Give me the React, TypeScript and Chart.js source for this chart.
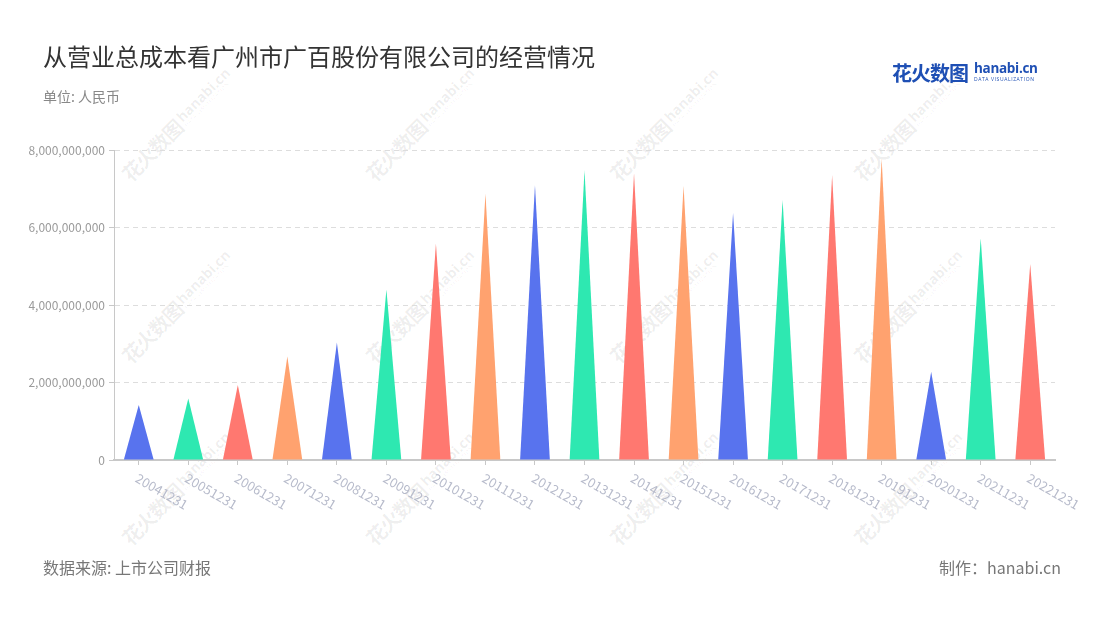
import React, { useEffect, useRef } from "react";
import { Chart, registerables } from "chart.js";

Chart.register(...registerables);

const categories = [
  "20041231", "20051231", "20061231", "20071231", "20081231", "20091231",
  "20101231", "20111231", "20121231", "20131231", "20141231", "20151231",
  "20161231", "20171231", "20181231", "20191231", "20201231", "20211231",
  "20221231",
];

const totalCost = [
  1.42e9, 1.59e9, 1.935e9, 2.67e9, 3.03e9, 4.4e9, 5.59e9, 6.88e9, 7.1e9,
  7.48e9, 7.4e9, 7.07e9, 6.38e9, 6.71e9, 7.35e9, 7.78e9, 2.28e9, 5.72e9,
  5.06e9,
];

const palette = ["#5873EE", "#2EE8B1", "#FF7870", "#FFA26F"];

const yTicks = [0, 2e9, 4e9, 6e9, 8e9];

const wmCols = [133, 377, 621, 865];
const wmRows = [185, 367, 549];

const FONT = "'Noto Sans CJK SC', 'Noto Sans', sans-serif";

const trianglePlugin = {
  id: "triangles",
  afterDatasetsDraw(chart: any) {
    const ctx = chart.ctx;
    const meta = chart.getDatasetMeta(0);
    ctx.save();
    meta.data.forEach((el: any, i: number) => {
      const { x, y, base, width } = el.getProps(["x", "y", "base", "width"], true);
      ctx.beginPath();
      ctx.moveTo(x - width / 2, base);
      ctx.lineTo(x, y);
      ctx.lineTo(x + width / 2, base);
      ctx.closePath();
      ctx.fillStyle = palette[i % palette.length];
      ctx.fill();
    });
    ctx.restore();
  },
};

const xLabelPlugin = {
  id: "xLabels",
  afterDraw(chart: any) {
    const ctx = chart.ctx;
    const xs = chart.scales.x;
    ctx.save();
    ctx.font = `13px ${FONT}`;
    ctx.fillStyle = "#B7BBCB";
    ctx.textAlign = "left";
    ctx.textBaseline = "middle";
    categories.forEach((lab, i) => {
      const px = xs.getPixelForValue(i);
      ctx.save();
      ctx.translate(px - 2, xs.top + 17);
      ctx.rotate((30 * Math.PI) / 180);
      ctx.fillText(lab, 0, 0);
      ctx.restore();
    });
    ctx.restore();
  },
};

function Watermark({ x, y }: { x: number; y: number }) {
  return (
    <div
      style={{
        position: "absolute",
        left: x,
        top: y - 24,
        height: 24,
        transformOrigin: "0 100%",
        transform: "rotate(-45deg)",
        display: "flex",
        alignItems: "center",
        whiteSpace: "nowrap",
        color: "rgba(0,0,0,0.07)",
        pointerEvents: "none",
      }}
    >
      <span style={{ fontSize: 20, fontWeight: 700, letterSpacing: -1 }}>花火数图</span>
      <span
        style={{
          display: "inline-flex",
          flexDirection: "column",
          marginLeft: 3,
          lineHeight: 1,
        }}
      >
        <span style={{ fontSize: 14, fontWeight: 700, fontFamily: "'Open Sans', sans-serif" }}>
          hanabi.cn
        </span>
        <span style={{ fontSize: 5, letterSpacing: 0.6, fontFamily: "'Open Sans', sans-serif" }}>
          DATA VISUALIZATION
        </span>
      </span>
    </div>
  );
}

export default function App() {
  const ref = useRef<HTMLCanvasElement | null>(null);

  useEffect(() => {
    document.body.style.margin = "0";
    const canvas = ref.current;
    if (!canvas) return;
    const chart = new Chart(canvas, {
      type: "bar",
      data: {
        labels: categories,
        datasets: [
          {
            data: totalCost,
            backgroundColor: "rgba(0,0,0,0)",
            borderWidth: 0,
            barPercentage: 0.6,
            categoryPercentage: 1,
          },
        ],
      },
      options: {
        responsive: false,
        animation: false,
        events: [],
        layout: { padding: { top: 150, right: 45, left: 0, bottom: 0 } },
        plugins: {
          legend: { display: false },
          title: { display: false },
          tooltip: { enabled: false },
        },
        scales: {
          x: {
            offset: true,
            grid: {
              offset: false,
              drawOnChartArea: false,
              drawTicks: true,
              tickLength: 5,
              tickColor: "#C8C8C8",
            },
            border: { display: true, color: "#C8C8C8", width: 2 },
            ticks: { display: false },
            afterFit(scale: any) {
              scale.height = 160;
            },
          },
          y: {
            min: 0,
            max: 8e9,
            afterBuildTicks(scale: any) {
              scale.ticks = yTicks.map((v) => ({ value: v }));
            },
            grid: {
              color: "#DDDDDD",
              lineWidth: 1,
              drawTicks: true,
              tickLength: 5,
              tickColor: "#C8C8C8",
              tickBorderDash: [],
            },
            border: { display: true, color: "#C8C8C8", width: 1, dash: [5, 4] },
            ticks: {
              color: "#9A9A9A",
              padding: 4,
              font: { size: 12, family: FONT },
              callback: (v: any) => Number(v).toLocaleString("en-US"),
            },
            afterFit(scale: any) {
              scale.width = 114;
            },
          },
        },
      },
      plugins: [trianglePlugin, xLabelPlugin],
    });
    return () => chart.destroy();
  }, []);

  return (
    <div
      style={{
        position: "relative",
        width: 1100,
        height: 620,
        background: "#fff",
        fontFamily: FONT,
        overflow: "hidden",
      }}
    >
      {wmRows.map((y) =>
        wmCols.map((x) => <Watermark key={`${x}-${y}`} x={x} y={y} />)
      )}
      <canvas
        ref={ref}
        width={1100}
        height={620}
        style={{ position: "absolute", left: 0, top: 0, width: 1100, height: 620 }}
      />
      <div
        style={{
          position: "absolute",
          left: 43,
          top: 39,
          fontSize: 24,
          lineHeight: "34px",
          color: "#333",
          whiteSpace: "nowrap",
        }}
      >
        从营业总成本看广州市广百股份有限公司的经营情况
      </div>
      <div
        style={{
          position: "absolute",
          left: 43,
          top: 86,
          fontSize: 14,
          lineHeight: "20px",
          color: "#888",
          whiteSpace: "nowrap",
        }}
      >
        单位: 人民币
      </div>
      <div
        style={{
          position: "absolute",
          left: 43,
          top: 555,
          fontSize: 16,
          lineHeight: "24px",
          color: "#777",
          whiteSpace: "nowrap",
        }}
      >
        数据来源: 上市公司财报
      </div>
      <div
        style={{
          position: "absolute",
          right: 39,
          top: 555,
          fontSize: 16,
          lineHeight: "24px",
          color: "#777",
          whiteSpace: "nowrap",
        }}
      >
        制作：hanabi.cn
      </div>
      <div
        style={{
          position: "absolute",
          left: 892,
          top: 59,
          height: 26,
          display: "flex",
          alignItems: "center",
          whiteSpace: "nowrap",
        }}
      >
        <span
          style={{
            fontSize: 20,
            fontWeight: 700,
            color: "#1E4FB4",
            letterSpacing: -1,
          }}
        >
          花火数图
        </span>
        <span
          style={{
            display: "inline-flex",
            flexDirection: "column",
            marginLeft: 6,
            lineHeight: 1,
          }}
        >
          <span
            style={{
              fontSize: 13.5,
              fontWeight: 700,
              color: "#1E4FB4",
              fontFamily: "'Open Sans', sans-serif",
              letterSpacing: -0.3,
            }}
          >
            hanabi.cn
          </span>
          <span
            style={{
              fontSize: 5,
              color: "#1E4FB4",
              letterSpacing: 0.6,
              marginTop: 2,
              fontFamily: "'Open Sans', sans-serif",
            }}
          >
            DATA VISUALIZATION
          </span>
        </span>
      </div>
    </div>
  );
}
